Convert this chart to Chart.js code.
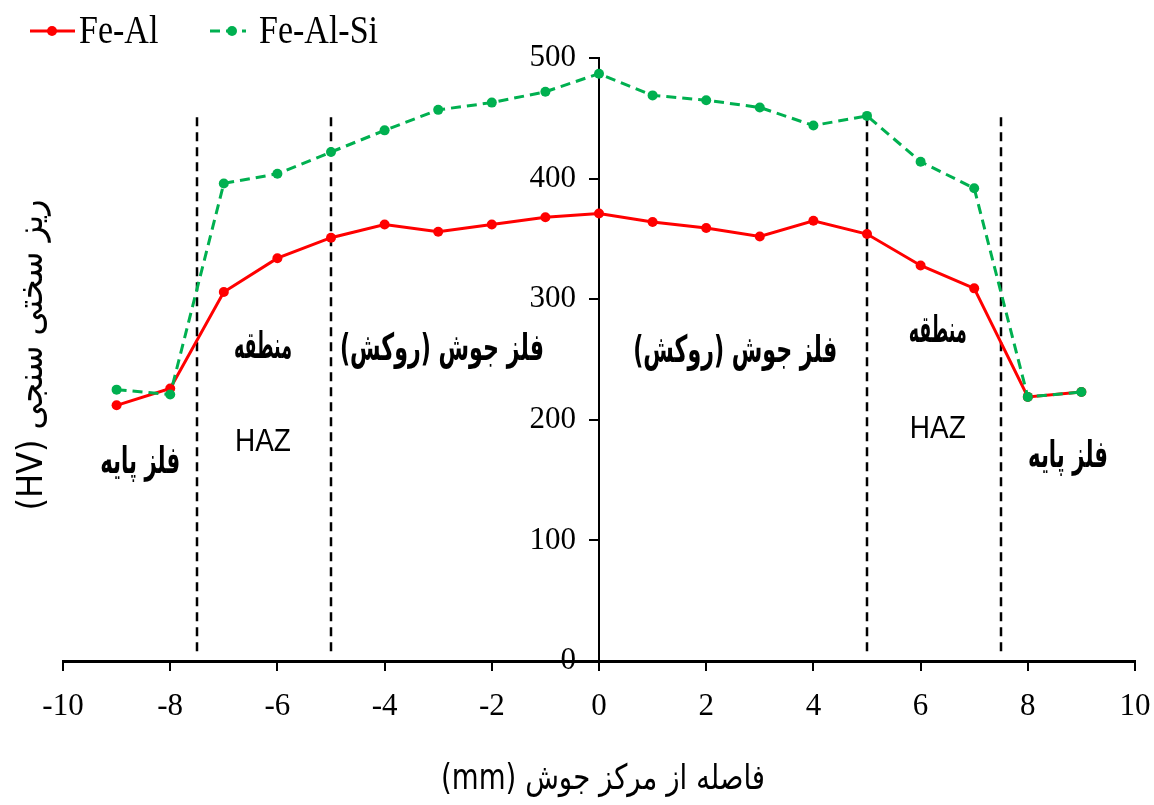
<!DOCTYPE html>
<html>
<head>
<meta charset="utf-8">
<script src="https://cdn.jsdelivr.net/npm/chart.js@4.4.1/dist/chart.umd.min.js"></script>
<style>
  html, body { margin: 0; padding: 0; background: #fff; }
  #wrap { width: 1154px; height: 805px; }
</style>
</head>
<body>
<div id="wrap"><canvas id="chart"></canvas></div>
<script>
// distance from weld centre (mm) and micro-hardness (HV)
const distances = [-9, -8, -7, -6, -5, -4, -3, -2, -1, 0, 1, 2, 3, 4, 5, 6, 7, 8, 9];
const feAl   = [212, 226, 306, 334, 351, 362, 356, 362, 368, 371, 364, 359, 352, 365, 354, 328, 309, 219, 223];
const feAlSi = [225, 221, 396, 404, 422, 440, 457, 463, 472, 487, 469, 465, 459, 444, 452, 414, 392, 219, 223];

// zone boundaries (mm) and the HV span of the dashed markers
const boundaries = [-7.5, -5, 5, 7.5];
const boundarySpan = [8, 453];

const xTicks = [-10, -8, -6, -4, -2, 0, 2, 4, 6, 8, 10];
const yTicks = [0, 100, 200, 300, 400, 500];

const xTitle = "فاصله از مرکز جوش (mm)";
const yTitle = "ریز سختی سنجی (HV)";

// zone notes, placed in data units
const zoneNotes = [
    { text: "فلز پایه", x: -8.56, y: 164, w: 80, arabic: true },
    { text: "HAZ", x: -6.27, y: 181, w: 56, arabic: false },
    { text: "منطقه", x: -6.27, y: 259, w: 58, arabic: true },
    { text: "فلز جوش (روکش)", x: -2.93, y: 258, w: 204, arabic: true },
    { text: "فلز جوش (روکش)", x: 2.54, y: 256, w: 204, arabic: true },
    { text: "منطقه", x: 6.32, y: 273, w: 58, arabic: true },
    { text: "HAZ", x: 6.32, y: 192, w: 56, arabic: false },
    { text: "فلز پایه", x: 8.75, y: 169, w: 80, arabic: true }
];

const RED = "#FF0000";
const GREEN = "#00B050";
const SERIF = "'Liberation Serif', 'Times New Roman', serif";
const ARABIC = "'DejaVu Sans', sans-serif";

const toPoints = (xs, ys) => xs.map((x, i) => ({ x, y: ys[i] }));

const boundarySets = boundaries.map(b => ({
    label: "_boundary",
    data: boundarySpan.map(v => ({ x: b, y: v })),
    borderColor: "#000",
    borderWidth: 2.5,
    borderDash: [9, 6],
    pointRadius: 0,
    order: 3
}));

// text drawn slightly stretched vertically, like the source figure
function tallText(ctx, text, x, y, maxW, stretch) {
    ctx.save();
    ctx.translate(x, y);
    ctx.scale(1, stretch);
    ctx.fillText(text, 0, 0, maxW);
    ctx.restore();
}

const annotations = {
    id: "annotations",
    afterDraw(chart) {
        const ctx = chart.ctx;
        const xs = chart.scales.x;
        const ys = chart.scales.y;

        ctx.save();
        ctx.fillStyle = "#000";
        ctx.textBaseline = "middle";
        ctx.textAlign = "center";

        zoneNotes.forEach(n => {
            const px = xs.getPixelForValue(n.x);
            const py = ys.getPixelForValue(n.y);
            if (n.arabic) {
                ctx.direction = "rtl";
                ctx.font = "bold 30px " + ARABIC;
                tallText(ctx, n.text, px, py, n.w, 1.25);
            } else {
                ctx.direction = "ltr";
                ctx.font = "28px 'Liberation Sans', Arial, sans-serif";
                tallText(ctx, n.text, px, py, n.w, 1.1);
            }
        });

        // axis titles
        ctx.direction = "rtl";
        ctx.font = "29px " + ARABIC;
        tallText(ctx, xTitle, 603, 780, 324, 1.2);

        ctx.save();
        ctx.translate(33, 355);
        ctx.rotate(-Math.PI / 2);
        ctx.font = "32px " + ARABIC;
        tallText(ctx, yTitle, 0, 0, 320, 1.1);
        ctx.restore();

        // legend
        ctx.direction = "ltr";
        ctx.textAlign = "left";
        ctx.font = "34px " + SERIF;
        const ly = 31;

        ctx.strokeStyle = RED;
        ctx.lineWidth = 3;
        ctx.beginPath();
        ctx.moveTo(30, ly);
        ctx.lineTo(75, ly);
        ctx.stroke();
        ctx.fillStyle = RED;
        ctx.beginPath();
        ctx.arc(52, ly, 5, 0, Math.PI * 2);
        ctx.fill();
        ctx.fillStyle = "#000";
        tallText(ctx, "Fe-Al", 79, ly + 2, 200, 1.15);

        ctx.strokeStyle = GREEN;
        ctx.setLineDash([10, 6]);
        ctx.beginPath();
        ctx.moveTo(210, ly);
        ctx.lineTo(246, ly);
        ctx.stroke();
        ctx.setLineDash([]);
        ctx.fillStyle = GREEN;
        ctx.beginPath();
        ctx.arc(232, ly, 5, 0, Math.PI * 2);
        ctx.fill();
        ctx.fillStyle = "#000";
        tallText(ctx, "Fe-Al-Si", 259, ly + 2, 200, 1.15);

        ctx.restore();
    }
};

new Chart(document.getElementById("chart"), {
    type: "line",
    data: {
        datasets: [
            {
                label: "Fe-Al-Si",
                data: toPoints(distances, feAlSi),
                borderColor: GREEN,
                backgroundColor: GREEN,
                borderWidth: 3,
                borderDash: [10, 6],
                pointRadius: 5,
                pointBorderWidth: 0,
                order: 1
            },
            {
                label: "Fe-Al",
                data: toPoints(distances, feAl),
                borderColor: RED,
                backgroundColor: RED,
                borderWidth: 3,
                pointRadius: 5,
                pointBorderWidth: 0,
                order: 2
            },
            ...boundarySets
        ]
    },
    options: {
        responsive: true,
        maintainAspectRatio: false,
        animation: false,
        events: [],
        layout: { padding: { left: 63, right: 19, top: 58, bottom: 0 } },
        plugins: {
            legend: { display: false },
            tooltip: { enabled: false }
        },
        scales: {
            x: {
                type: "linear",
                position: "bottom",
                min: -10,
                max: 10,
                afterBuildTicks: s => { s.ticks = xTicks.map(v => ({ value: v })); },
                afterFit: s => {
                    s.height = 144;
                    s.paddingLeft = 0;
                    s.paddingRight = 0;
                },
                border: { color: "#000", width: 3 },
                grid: { drawOnChartArea: false, drawTicks: true, tickLength: 10, color: "#000", lineWidth: 2 },
                ticks: {
                    color: "#000",
                    padding: 17,
                    font: { family: SERIF, size: 31 }
                }
            },
            y: {
                type: "linear",
                position: "center",
                min: 0,
                max: 500,
                afterBuildTicks: s => { s.ticks = yTicks.map(v => ({ value: v })); },
                border: { color: "#000", width: 2 },
                grid: { drawOnChartArea: false, drawTicks: true, tickLength: 9, color: "#000", lineWidth: 2 },
                ticks: {
                    color: "#000",
                    padding: 14,
                    font: { family: SERIF, size: 31 }
                }
            }
        }
    },
    plugins: [annotations]
});
</script>
</body>
</html>
